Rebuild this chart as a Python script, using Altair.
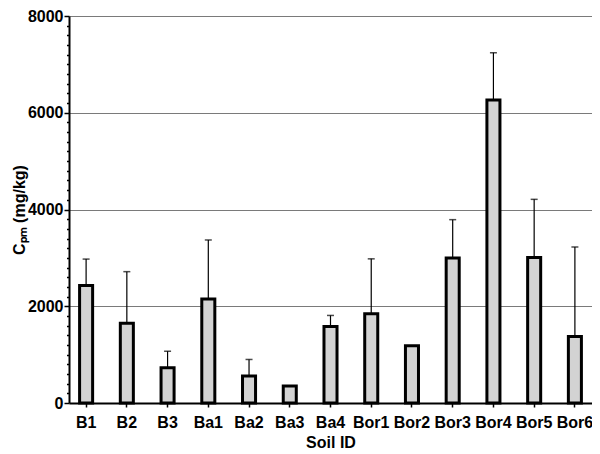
import altair as alt
import pandas as pd

soils = ["B1", "B2", "B3", "Ba1", "Ba2", "Ba3", "Ba4", "Bor1", "Bor2", "Bor3", "Bor4", "Bor5", "Bor6"]
means = [2430, 1650, 730, 2150, 560, 350, 1580, 1845, 1185, 2995, 6265, 3010, 1375]
upper = [2975, 2715, 1070, 3370, 900, None, 1810, 2980, None, 3790, 7240, 4210, 3225]

df = pd.DataFrame({"soil": soils, "mean": means, "upper": upper})
y_ticks = list(range(0, 8001, 200))

FONT = "Liberation Sans"

xenc = alt.X("soil:N", sort=soils, title="Soil ID",
             scale=alt.Scale(paddingInner=0.68, paddingOuter=0.26),
             axis=alt.Axis(labelAngle=0, labelFont=FONT, labelFontSize=16, labelFontWeight="bold",
                           labelColor="black", titleFont=FONT, titleFontSize=16, titleFontWeight="bold",
                           titleColor="black", domainColor="black", domainWidth=2, tickColor="black",
                           tickWidth=1.5, tickSize=4, labelPadding=7, titlePadding=4, grid=False))

yscale = alt.Scale(domain=[0, 8000], nice=False)

yaxis = alt.Axis(values=y_ticks, tickCount=100, format="d", labelOverlap=False,
                 labelExpr="datum.value % 2000 === 0 ? datum.label : ''",
                 tickSize={"condition": {"test": "datum.value % 2000 === 0", "value": 5}, "value": 2.5},
                 gridOpacity={"condition": {"test": "datum.value % 2000 === 0 && datum.value > 0", "value": 1}, "value": 0},
                 grid=True, gridColor="#7a7a7a", gridWidth=1,
                 labelFont=FONT, labelFontSize=16, labelFontWeight="bold", labelColor="black",
                 labelPadding=1, domainColor="black", domainWidth=2, tickColor="black", tickWidth=1.5,
                 titleFont=FONT, titleFontSize=16, titleFontWeight="bold", titleColor="black",
                 titlePadding=0)

base = alt.Chart(df)

err = base.transform_filter("datum.upper != null").mark_rule(color="black", strokeWidth=1.2).encode(
    x=xenc,
    y=alt.Y("mean:Q", scale=yscale, axis=yaxis, title="Cₚₘ (mg/kg)"),
    y2="upper:Q",
)

caps = base.transform_filter("datum.upper != null").mark_tick(color="black", thickness=1.5, size=7).encode(
    x=xenc,
    y=alt.Y("upper:Q", scale=yscale),
)

bars = base.mark_bar(fill="#d3d3d3", stroke="black", strokeWidth=3).encode(
    x=xenc,
    y=alt.Y("mean:Q", scale=yscale),
)

chart = alt.layer(err, caps, bars).properties(
    width=523, height=387,
    autosize=alt.AutoSizeParams(type="none"),
    padding={"left": 61, "top": 8, "right": 0, "bottom": 50},
).configure_view(stroke=None)

chart.save("out.html", embed_options={"renderer": "svg", "actions": False})
